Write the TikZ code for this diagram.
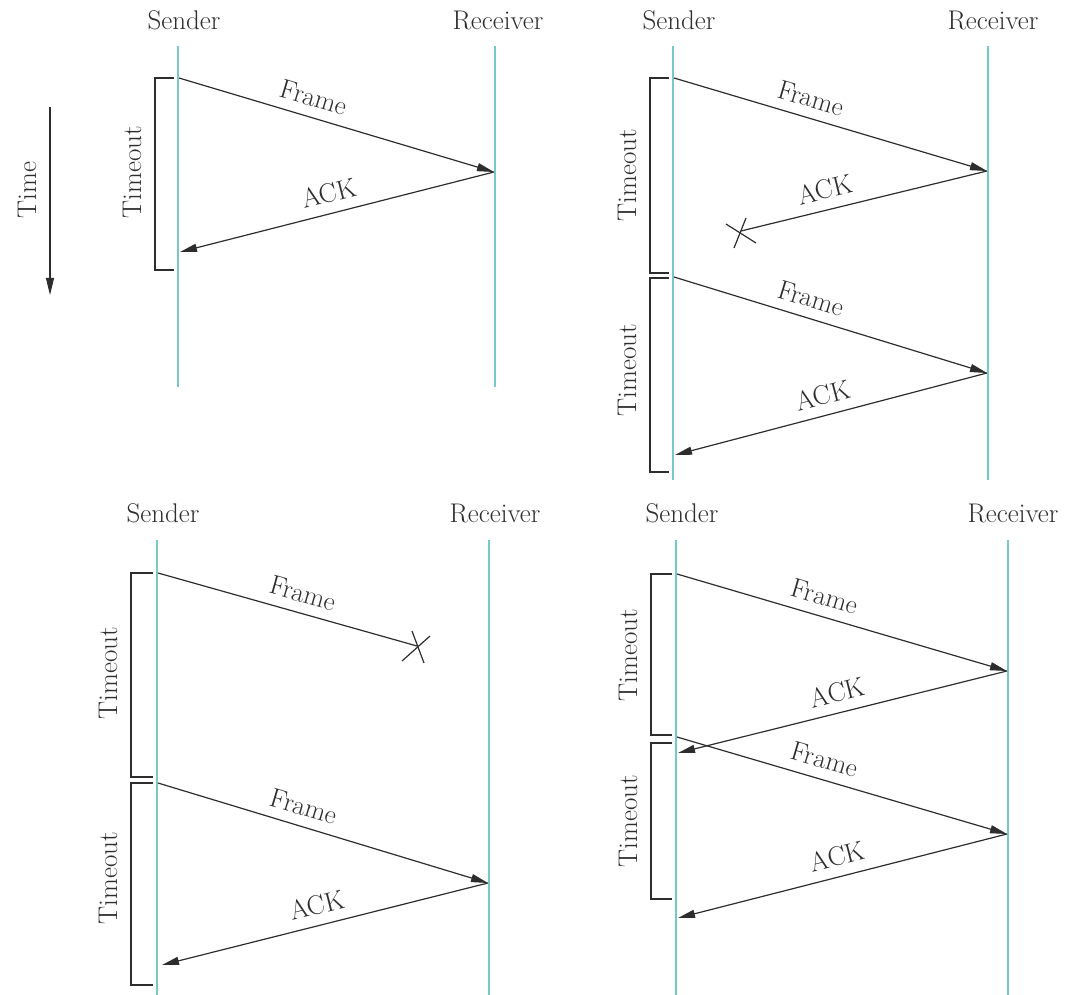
\documentclass[tikz,border=0pt]{standalone}
\usetikzlibrary{arrows.meta}
\definecolor{lifeline}{RGB}{120,200,200}
\definecolor{ink}{RGB}{45,45,45}
\begin{document}
\begin{tikzpicture}[x=1pt,y=-1pt,
  life/.style={draw=lifeline, line width=1.2pt},
  msg/.style={draw=ink, line width=1.2pt, -{Triangle[length=17pt,width=8pt]}},
  ackmsg/.style={draw=ink, line width=1.2pt, {Triangle[length=17pt,width=8pt]}-},
  lost/.style={draw=ink, line width=1.2pt},
  brk/.style={draw=ink, line width=1.1pt},
  lbl/.style={font=\fontsize{27}{32}\selectfont, text=ink, inner sep=0pt},
  hdr/.style={lbl, anchor=base},
  onarrow/.style={lbl, sloped, above=10pt}
]
\useasboundingbox (0,0) rectangle (1072,995);

% ---------- Time axis ----------
\coordinate (t0) at (50,107);
\coordinate (t1) at (50,295);
\draw[msg] (t0) -- (t1);
\node[lbl, rotate=90] (tlbl) at (27,190) {Time};

% ---------- Panel 1 ----------
\coordinate (p1s0) at (178,46);  \coordinate (p1s1) at (178,387);
\coordinate (p1r0) at (495,46);  \coordinate (p1r1) at (495,387);
\draw[life] (p1s0) -- (p1s1);
\draw[life] (p1r0) -- (p1r1);
\node[hdr] (p1sl) at (184,30) {Sender};
\node[hdr] (p1rl) at (498,30) {Receiver};
\coordinate (p1f0) at (179,78);
\coordinate (p1f1) at (494,172);
\coordinate (p1a1) at (180,252);
\draw[msg] (p1f0) -- (p1f1) node[onarrow, pos=.41] (p1fl) {Frame};
\draw[ackmsg] (p1a1) -- (p1f1) node[onarrow, pos=.49] (p1al) {ACK};
\draw[brk] (174,78) -| (155,270) -- (174,270);
\node[lbl, rotate=90] (p1t) at (132,172) {Timeout};

% ---------- Panel 2 ----------
\coordinate (p2s0) at (673,46);  \coordinate (p2s1) at (673,480);
\coordinate (p2r0) at (988,46);  \coordinate (p2r1) at (988,480);
\draw[life] (p2s0) -- (p2s1);
\draw[life] (p2r0) -- (p2r1);
\node[hdr] (p2sl) at (679,30) {Sender};
\node[hdr] (p2rl) at (993,30) {Receiver};
\coordinate (p2f0) at (674,78);
\coordinate (p2f1) at (987,171);
\coordinate (p2x) at (741,231);
\draw[msg] (p2f0) -- (p2f1) node[onarrow, pos=.42] (p2fl) {Frame};
\draw[lost] (p2x) -- (p2f1) node[onarrow, pos=.36] (p2al) {ACK};
\draw[lost] ([shift={(-15,-7)}]p2x) -- ([shift={(15,12)}]p2x);
\draw[lost] ([shift={(5,-13)}]p2x) -- ([shift={(-7,17)}]p2x);
\draw[brk] (669,78) -| (650,273) -- (669,273);
\node[lbl, rotate=90] (p2t1) at (627,175) {Timeout};
\coordinate (p2g0) at (674,277);
\coordinate (p2g1) at (987,373);
\coordinate (p2b1) at (675,455);
\draw[msg] (p2g0) -- (p2g1) node[onarrow, pos=.42] (p2gl) {Frame};
\draw[ackmsg] (p2b1) -- (p2g1) node[onarrow, pos=.49] (p2bl) {ACK};
\draw[brk] (669,278) -| (650,472) -- (669,472);
\node[lbl, rotate=90] (p2t2) at (627,370) {Timeout};

% ---------- Panel 3 ----------
\coordinate (p3s0) at (157,540);  \coordinate (p3s1) at (157,995);
\coordinate (p3r0) at (489,540);  \coordinate (p3r1) at (489,995);
\draw[life] (p3s0) -- (p3s1);
\draw[life] (p3r0) -- (p3r1);
\node[hdr] (p3sl) at (163,522) {Sender};
\node[hdr] (p3rl) at (495,522) {Receiver};
\coordinate (p3f0) at (158,573);
\coordinate (p3x) at (417,646);
\draw[lost] (p3f0) -- (p3x) node[onarrow, pos=.54] (p3fl) {Frame};
\draw[lost] ([shift={(-5,-15)}]p3x) -- ([shift={(7,17)}]p3x);
\draw[lost] ([shift={(-15,15)}]p3x) -- ([shift={(13,-10)}]p3x);
\draw[brk] (153,573) -| (131,777) -- (153,777);
\node[lbl, rotate=90] (p3t1) at (108,673) {Timeout};
\coordinate (p3g0) at (158,783);
\coordinate (p3g1) at (488,883);
\coordinate (p3b1) at (162,965);
\draw[msg] (p3g0) -- (p3g1) node[onarrow, pos=.425] (p3gl) {Frame};
\draw[ackmsg] (p3b1) -- (p3g1) node[onarrow, pos=.49] (p3bl) {ACK};
\draw[brk] (153,783) -| (131,985) -- (153,985);
\node[lbl, rotate=90] (p3t2) at (108,878) {Timeout};

% ---------- Panel 4 ----------
\coordinate (p4s0) at (676,540);  \coordinate (p4s1) at (676,995);
\coordinate (p4r0) at (1008,540); \coordinate (p4r1) at (1008,995);
\draw[life] (p4s0) -- (p4s1);
\draw[life] (p4r0) -- (p4r1);
\node[hdr] (p4sl) at (682,522) {Sender};
\node[hdr] (p4rl) at (1013,522) {Receiver};
\coordinate (p4f0) at (677,574);
\coordinate (p4f1) at (1007,671);
\coordinate (p4a1) at (678,753);
\draw[msg] (p4f0) -- (p4f1) node[onarrow, pos=.43] (p4fl) {Frame};
\draw[ackmsg] (p4a1) -- (p4f1) node[onarrow, pos=.5] (p4al) {ACK};
\draw[brk] (672,574) -| (651,735) -- (672,735);
\node[lbl, rotate=90] (p4t1) at (628,655) {Timeout};
\coordinate (p4g0) at (677,737);
\coordinate (p4g1) at (1007,834);
\coordinate (p4b1) at (678,918);
\draw[msg] (p4g0) -- (p4g1) node[onarrow, pos=.43] (p4gl) {Frame};
\draw[ackmsg] (p4b1) -- (p4g1) node[onarrow, pos=.5] (p4bl) {ACK};
\draw[brk] (672,743) -| (651,899) -- (672,899);
\node[lbl, rotate=90] (p4t2) at (628,821) {Timeout};
\end{tikzpicture}
\end{document}
